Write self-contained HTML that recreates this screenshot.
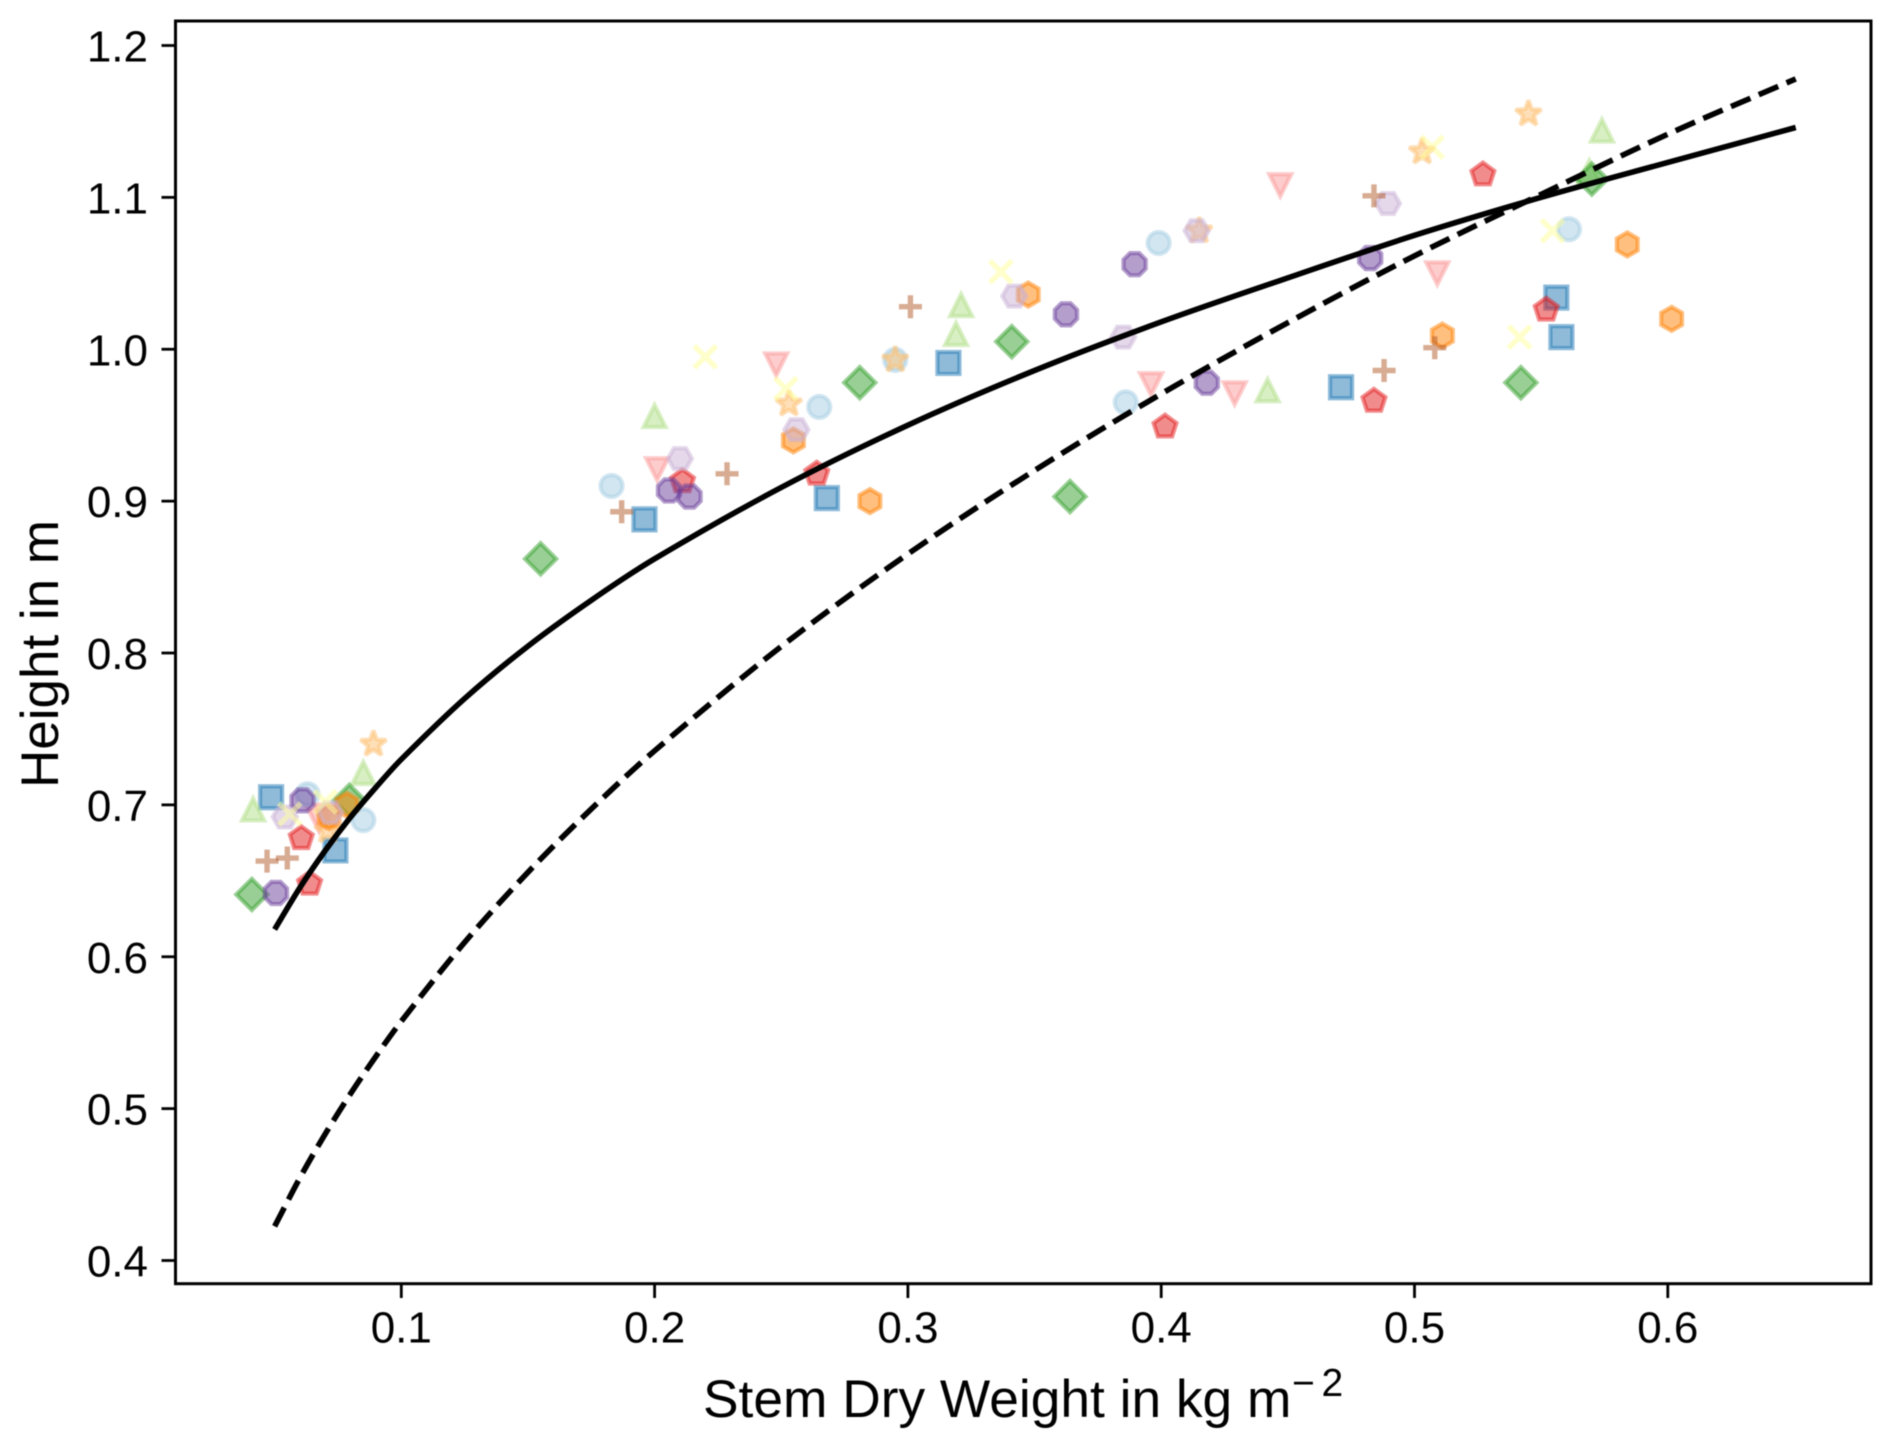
<!DOCTYPE html>
<html lang="en">
<head>
<meta charset="utf-8">
<title>Height vs Stem Dry Weight</title>
<style>
html,body{margin:0;padding:0;background:#fff;}
svg{display:block;filter:blur(0.55px);}
text{font-family:"Liberation Sans",Arial,sans-serif;fill:#000;}
</style>
</head>
<body>
<svg id="chart" xmlns="http://www.w3.org/2000/svg" width="1892" height="1447" viewBox="0 0 1892 1447">
  <rect x="0" y="0" width="1892" height="1447" fill="#ffffff"/>
  <g id="marks"></g>
  <g id="curves"></g>
  <rect x="175.5" y="21" width="1695.5" height="1262.7" fill="none" stroke="#000" stroke-width="3"/>
  <g id="xticks"></g>
  <g id="yticks"></g>
  <text x="703" y="1417" font-size="53.3">Stem Dry Weight in kg m<tspan x="1292" y="1396" font-size="39">−</tspan><tspan x="1321.5" y="1396" font-size="39">2</tspan></text>
  <text transform="translate(57.8,654) rotate(-90)" text-anchor="middle" font-size="53">Height in m</text>
</svg>
<script>
// Axis tick labels
const xTickValues = [0.1, 0.2, 0.3, 0.4, 0.5, 0.6];
const yTickValues = [0.4, 0.5, 0.6, 0.7, 0.8, 0.9, 1.0, 1.1, 1.2];

// Scatter series values (stem dry weight, height)
const lightBlueX = [0.063, 0.085, 0.183, 0.265, 0.295, 0.399, 0.386, 0.561];
const lightBlueY = [0.707, 0.690, 0.910, 0.962, 0.993, 1.070, 0.965, 1.079];
const blueX = [0.0486, 0.074, 0.196, 0.268, 0.316, 0.471, 0.556, 0.558];
const blueY = [0.705, 0.670, 0.888, 0.902, 0.991, 0.975, 1.034, 1.008];
const lightGreenX = [0.0415, 0.085, 0.200, 0.319, 0.321, 0.442, 0.569, 0.574];
const lightGreenY = [0.697, 0.721, 0.956, 1.010, 1.029, 0.973, 1.117, 1.144];
const greenX = [0.041, 0.0795, 0.155, 0.281, 0.341, 0.364, 0.542, 0.570];
const greenY = [0.641, 0.703, 0.862, 0.978, 1.005, 0.903, 0.978, 1.112];
const pinkX = [0.0675, 0.070, 0.201, 0.248, 0.396, 0.429, 0.447, 0.509];
const pinkY = [0.690, 0.693, 0.921, 0.990, 0.977, 0.971, 1.108, 1.050];
const redX = [0.0605, 0.0638, 0.211, 0.264, 0.4015, 0.484, 0.527, 0.552];
const redY = [0.678, 0.648, 0.913, 0.918, 0.949, 0.966, 1.115, 1.026];
const lightOrangeX = [0.089, 0.071, 0.0715, 0.253, 0.295, 0.415, 0.503, 0.545];
const lightOrangeY = [0.740, 0.683, 0.692, 0.964, 0.993, 1.078, 1.130, 1.155];
const orangeX = [0.0715, 0.0785, 0.2548, 0.285, 0.3475, 0.511, 0.584, 0.6015];
const orangeY = [0.692, 0.700, 0.940, 0.900, 1.036, 1.009, 1.069, 1.020];
const lightPurpleX = [0.054, 0.072, 0.210, 0.256, 0.342, 0.385, 0.414, 0.4895];
const lightPurpleY = [0.692, 0.695, 0.928, 0.947, 1.035, 1.008, 1.078, 1.096];
const purpleX = [0.0505, 0.061, 0.2057, 0.2138, 0.3624, 0.3895, 0.418, 0.4825];
const purpleY = [0.642, 0.703, 0.907, 0.903, 1.023, 1.056, 0.978, 1.060];
const yellowX = [0.056, 0.070, 0.220, 0.2518, 0.3367, 0.507, 0.5415, 0.5545];
const yellowY = [0.694, 0.702, 0.995, 0.974, 1.051, 1.133, 1.008, 1.078];
const brownX = [0.047, 0.055, 0.187, 0.2286, 0.301, 0.484, 0.488, 0.508];
const brownY = [0.663, 0.665, 0.893, 0.918, 1.028, 1.101, 0.986, 1.001];

// Fit curves
const curveX = [0.05, 0.06, 0.07, 0.08, 0.09, 0.10, 0.125, 0.15, 0.175, 0.2, 0.25, 0.3, 0.35, 0.4, 0.45, 0.5, 0.55, 0.6, 0.6505];
const solidCurveY = [0.618, 0.6456, 0.670, 0.692, 0.7116, 0.730, 0.770, 0.8045, 0.8347, 0.862, 0.909, 0.950, 0.986, 1.018, 1.047, 1.075, 1.100, 1.123, 1.146];
const dashedCurveY = [0.4225, 0.4545, 0.4834, 0.5099, 0.5345, 0.5575, 0.6095, 0.6556, 0.6973, 0.7356, 0.8043, 0.8652, 0.9202, 0.9706, 1.0175, 1.0615, 1.102, 1.1416, 1.178];

const NS = 'http://www.w3.org/2000/svg';
function xScale(v) { return 401.3 + (v - 0.1) * 2533; }
function yScale(v) { return 45.5 + (1.2 - v) * 1518.75; }

const R = 11;
const RP = 12;
const RS = 13.5;
function regularPolygon(n, r, startDeg) {
  const pts = [];
  for (let i = 0; i < n; i++) {
    const a = (startDeg + i * 360 / n) * Math.PI / 180;
    pts.push((r * Math.cos(a)).toFixed(2) + ',' + (r * Math.sin(a)).toFixed(2));
  }
  return 'M' + pts.join('L') + 'Z';
}
function starPath(r) {
  const pts = [];
  for (let i = 0; i < 10; i++) {
    const a = (-90 + i * 36) * Math.PI / 180;
    const q = i % 2 ? r * 0.42 : r;
    pts.push((q * Math.cos(a)).toFixed(2) + ',' + (q * Math.sin(a)).toFixed(2));
  }
  return 'M' + pts.join('L') + 'Z';
}
const markerPaths = {
  circle: 'M' + (-R) + ',0A' + R + ',' + R + ' 0 1 1 ' + R + ',0A' + R + ',' + R + ' 0 1 1 ' + (-R) + ',0Z',
  square: 'M' + (-R) + ',' + (-R) + 'H' + R + 'V' + R + 'H' + (-R) + 'Z',
  triangleUp: 'M0,' + (-R) + 'L' + (-R) + ',' + R + 'H' + R + 'Z',
  triangleDown: 'M0,' + R + 'L' + (-R) + ',' + (-R) + 'H' + R + 'Z',
  diamond: regularPolygon(4, R * Math.SQRT2, 0),
  pentagon: regularPolygon(5, RP, -90),
  star: starPath(RS),
  hexagonPointy: regularPolygon(6, RP, -90),
  hexagonFlat: regularPolygon(6, RP, 0),
  octagon: regularPolygon(8, RP, 22.5),
  cross: 'M-11,-11L11,11M-11,11L11,-11',
  plus: 'M-11.5,0H11.5M0,-11.5V11.5'
};

const seriesList = [
  { name: 'light-blue-circles', xs: lightBlueX, ys: lightBlueY, marker: 'circle', color: '#a6cee3' },
  { name: 'blue-squares', xs: blueX, ys: blueY, marker: 'square', color: '#1f78b4' },
  { name: 'light-green-triangles', xs: lightGreenX, ys: lightGreenY, marker: 'triangleUp', color: '#b2df8a' },
  { name: 'green-diamonds', xs: greenX, ys: greenY, marker: 'diamond', color: '#33a02c' },
  { name: 'pink-triangles', xs: pinkX, ys: pinkY, marker: 'triangleDown', color: '#fb9a99' },
  { name: 'red-pentagons', xs: redX, ys: redY, marker: 'pentagon', color: '#e31a1c' },
  { name: 'light-orange-stars', xs: lightOrangeX, ys: lightOrangeY, marker: 'star', color: '#fdbf6f' },
  { name: 'orange-hexagons', xs: orangeX, ys: orangeY, marker: 'hexagonPointy', color: '#ff7f00' },
  { name: 'light-purple-hexagons', xs: lightPurpleX, ys: lightPurpleY, marker: 'hexagonFlat', color: '#cab2d6' },
  { name: 'purple-octagons', xs: purpleX, ys: purpleY, marker: 'octagon', color: '#6a3d9a' },
  { name: 'yellow-crosses', xs: yellowX, ys: yellowY, marker: 'cross', color: '#ffff99' },
  { name: 'brown-plus-signs', xs: brownX, ys: brownY, marker: 'plus', color: '#b15928' }
];

const marksLayer = document.getElementById('marks');
seriesList.forEach(function (s) {
  const group = document.createElementNS(NS, 'g');
  
  
  const isLineMarker = s.marker === 'cross' || s.marker === 'plus';
  s.xs.forEach(function (xv, i) {
    const el = document.createElementNS(NS, 'path');
    
    
    el.setAttribute('d', markerPaths[s.marker]);
    el.setAttribute('transform', 'translate(' + xScale(xv).toFixed(2) + ',' + yScale(s.ys[i]).toFixed(2) + ')');
    el.setAttribute('fill', isLineMarker ? 'none' : s.color);
    el.setAttribute('fill-opacity', '0.5');
    el.setAttribute('stroke', s.color);
    el.setAttribute('stroke-opacity', '0.5');
    el.setAttribute('stroke-width', isLineMarker ? '5.4' : '4.2');
    el.setAttribute('stroke-linejoin', s.marker === 'star' ? 'bevel' : 'miter');
    el.setAttribute('stroke-miterlimit', '10');
    group.appendChild(el);
  });
  marksLayer.appendChild(group);
});

function smoothPath(xs, ys) {
  const p = xs.map(function (xv, i) { return [xScale(xv), yScale(ys[i])]; });
  let d = 'M' + p[0][0].toFixed(2) + ',' + p[0][1].toFixed(2);
  for (let i = 0; i < p.length - 1; i++) {
    const p0 = p[Math.max(i - 1, 0)], p1 = p[i], p2 = p[i + 1], p3 = p[Math.min(i + 2, p.length - 1)];
    const h = p2[0] - p1[0];
    const m1 = (p2[1] - p0[1]) / (p2[0] - p0[0]);
    const m2 = (p3[1] - p1[1]) / (p3[0] - p1[0]);
    d += 'C' + (p1[0] + h / 3).toFixed(2) + ',' + (p1[1] + m1 * h / 3).toFixed(2) + ' ' +
         (p2[0] - h / 3).toFixed(2) + ',' + (p2[1] - m2 * h / 3).toFixed(2) + ' ' +
         p2[0].toFixed(2) + ',' + p2[1].toFixed(2);
  }
  return d;
}

const curvesLayer = document.getElementById('curves');
const solidCurve = document.createElementNS(NS, 'path');


solidCurve.setAttribute('d', smoothPath(curveX, solidCurveY));
solidCurve.setAttribute('fill', 'none');
solidCurve.setAttribute('stroke', '#000');
solidCurve.setAttribute('stroke-width', '5.6');
curvesLayer.appendChild(solidCurve);

const dashedCurve = document.createElementNS(NS, 'path');


dashedCurve.setAttribute('d', smoothPath(curveX, dashedCurveY));
dashedCurve.setAttribute('fill', 'none');
dashedCurve.setAttribute('stroke', '#000');
dashedCurve.setAttribute('stroke-width', '5.6');
curvesLayer.appendChild(dashedCurve);
const dashTotal = dashedCurve.getTotalLength();
const dashPeriod = (dashTotal - 10) / Math.round((dashTotal - 10) / 30);
dashedCurve.setAttribute('stroke-dasharray', (dashPeriod * 0.7).toFixed(3) + ' ' + (dashPeriod * 0.3).toFixed(3));

const xTickLayer = document.getElementById('xticks');
xTickValues.forEach(function (v) {
  const px = xScale(v);
  const tick = document.createElementNS(NS, 'line');
  
  
  tick.setAttribute('x1', px);
  tick.setAttribute('x2', px);
  tick.setAttribute('y1', 1284);
  tick.setAttribute('y2', 1298);
  tick.setAttribute('stroke', '#000');
  tick.setAttribute('stroke-width', '2.8');
  xTickLayer.appendChild(tick);
  const label = document.createElementNS(NS, 'text');
  
  
  label.setAttribute('x', px);
  label.setAttribute('y', 1342.7);
  label.setAttribute('text-anchor', 'middle');
  label.setAttribute('font-size', '44');
  label.textContent = v.toFixed(1);
  xTickLayer.appendChild(label);
});

const yTickLayer = document.getElementById('yticks');
yTickValues.forEach(function (v) {
  const py = yScale(v);
  const tick = document.createElementNS(NS, 'line');
  
  
  tick.setAttribute('x1', 161.5);
  tick.setAttribute('x2', 175.5);
  tick.setAttribute('y1', py);
  tick.setAttribute('y2', py);
  tick.setAttribute('stroke', '#000');
  tick.setAttribute('stroke-width', '2.8');
  yTickLayer.appendChild(tick);
  const label = document.createElementNS(NS, 'text');
  
  
  label.setAttribute('x', 148);
  label.setAttribute('y', py + 16);
  label.setAttribute('text-anchor', 'end');
  label.setAttribute('font-size', '44');
  label.textContent = v.toFixed(1);
  yTickLayer.appendChild(label);
});
</script>
</body>
</html>
